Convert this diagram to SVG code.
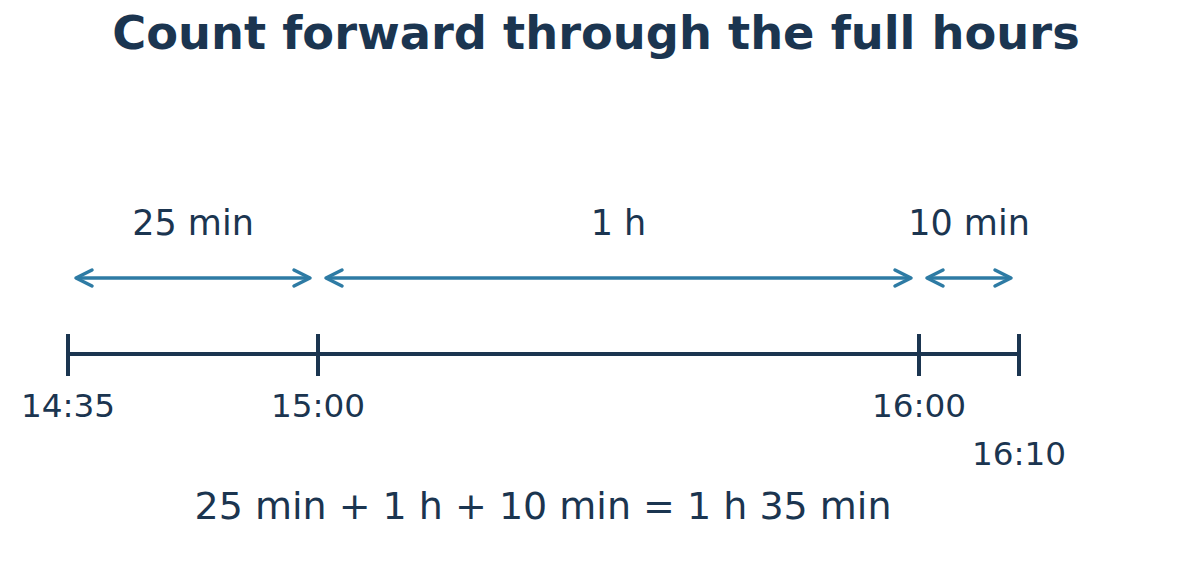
<svg xmlns="http://www.w3.org/2000/svg" width="1192" height="572" viewBox="0 0 1192 572">
  <style>
    text { font-family: "DejaVu Sans", "Liberation Sans", sans-serif; fill: #1b3550; }
    .title { font-size: 46.3px; font-weight: bold; }
    .seg { font-size: 35px; }
    .tick { font-size: 32.7px; }
    .eq { font-size: 38px; }
    .axis { stroke: #1b3550; stroke-width: 4; fill: none; }
    .span { stroke: #2e7ba4; stroke-width: 3.5; fill: none; }
  </style>
  <defs>
    <marker id="chev" viewBox="-20 -12 24 24" refX="0" refY="0" markerWidth="24" markerHeight="24" markerUnits="userSpaceOnUse" orient="auto-start-reverse">
      <path d="M-16,-8 L0,0 L-16,8" fill="none" stroke="#2e7ba4" stroke-width="3.5" stroke-linecap="round" stroke-linejoin="round"/>
    </marker>
  </defs>
  <rect width="1192" height="572" fill="#ffffff"/>
  <g id="title">
    <text class="title" x="596" y="49" text-anchor="middle">Count forward through the full hours</text>
  </g>
  <g id="axis">
    <line class="axis" x1="68" y1="354" x2="1019" y2="354"/>
  </g>
  <g id="tick-1435">
    <line class="axis" x1="68" y1="334" x2="68" y2="376"/>
    <text class="tick" x="68" y="417" text-anchor="middle">14:35</text>
  </g>
  <g id="tick-1500">
    <line class="axis" x1="318" y1="334" x2="318" y2="376"/>
    <text class="tick" x="318" y="417" text-anchor="middle">15:00</text>
  </g>
  <g id="tick-1600">
    <line class="axis" x1="919" y1="334" x2="919" y2="376"/>
    <text class="tick" x="919" y="417" text-anchor="middle">16:00</text>
  </g>
  <g id="tick-1610">
    <line class="axis" x1="1019" y1="334" x2="1019" y2="376"/>
    <text class="tick" x="1019" y="465" text-anchor="middle">16:10</text>
  </g>
  <g id="connectors">
    <line class="span" x1="76" y1="278" x2="310" y2="278" marker-start="url(#chev)" marker-end="url(#chev)"/>
    <line class="span" x1="326" y1="278" x2="911" y2="278" marker-start="url(#chev)" marker-end="url(#chev)"/>
    <line class="span" x1="927" y1="278" x2="1011" y2="278" marker-start="url(#chev)" marker-end="url(#chev)"/>
  </g>
  <g id="label-25min">
    <text class="seg" x="193" y="235" text-anchor="middle">25 min</text>
  </g>
  <g id="label-1h">
    <text class="seg" x="618.5" y="235" text-anchor="middle">1 h</text>
  </g>
  <g id="label-10min">
    <text class="seg" x="969" y="235" text-anchor="middle">10 min</text>
  </g>
  <g id="equation">
    <text class="eq" x="543" y="519" text-anchor="middle">25 min + 1 h + 10 min = 1 h 35 min</text>
  </g>
</svg>
